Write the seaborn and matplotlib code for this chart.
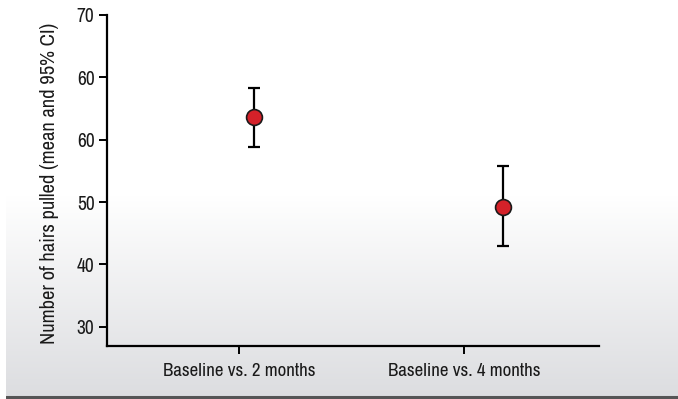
import numpy as np
import pandas as pd
import matplotlib
matplotlib.use("Agg")
import matplotlib.pyplot as plt
import seaborn as sns
from matplotlib import font_manager

# ---- data ----
categories = ["Baseline vs. 2 months", "Baseline vs. 4 months"]
tick_pos = [0.0, 1.0]
point_x = [0.067, 1.173]
means = [63.6, 49.2]
ci_low = [58.9, 42.9]
ci_high = [68.3, 55.7]
ytick_values = [30, 40, 50, 60, 70, 80]
ytick_labels = ["30", "40", "50", "60", "60", "70"]

sns.set_theme(style="white")
names = {f.name for f in font_manager.fontManager.ttflist}
cands = ["Nimbus Sans Narrow", "Liberation Sans Narrow", "Arial Narrow", "Archivo Narrow",
         "Roboto Condensed", "Liberation Sans"]
fam = next(c for c in cands if c in names)
plt.rcParams["font.family"] = [fam, "DejaVu Sans"]

W, H = 678, 399
fig = plt.figure(figsize=(W / 100, H / 100), dpi=100)
fig.patch.set_facecolor("white")

# background gradient
bg = fig.add_axes([6 / W, 0, 1 - 6 / W, 1], zorder=-10)
rows = np.arange(H)
top_c = np.array([1.0, 1.0, 1.0])
bot_c = np.array([0xdc, 0xdd, 0xe0]) / 255
t = np.clip((rows - 195) / (396 - 195), 0, 1)[:, None]
grad = top_c * (1 - t) + bot_c * t
img = np.repeat(grad[:, None, :], 10, axis=1)
bg.imshow(img, aspect="auto", extent=[0, 1, 0, 1], origin="upper")
bg.axhline(0.004, color="#555555", lw=2.2)
bg.set_xlim(0, 1); bg.set_ylim(0, 1)
bg.axis("off")

ax = fig.add_axes([107 / W, (H - 346) / H, (599 - 107) / W, (346 - 15) / H])
ax.patch.set_alpha(0)

df = pd.DataFrame({"x": point_x, "mean": means, "lo": ci_low, "hi": ci_high, "cat": categories})
ax.errorbar(df["x"], df["mean"],
            yerr=[df["mean"] - df["lo"], df["hi"] - df["mean"]],
            fmt="none", ecolor="black", elinewidth=1.6, capsize=4.5, capthick=1.6, zorder=2)
sns.scatterplot(data=df, x="x", y="mean", ax=ax, s=130, color="#d42129",
                edgecolor="#1a1a1a", linewidth=1.2, zorder=3, legend=False)

ax.set_xlim(-0.587, 1.6)
ax.set_ylim(26.9, 80)
ax.set_xticks(tick_pos)
ax.set_xticklabels(categories, fontsize=13.6, color="#1a1a1a")
ax.set_yticks(ytick_values)
ax.set_yticklabels(ytick_labels, fontsize=14, color="#1a1a1a")
ax.set_xlabel("")
ax.set_ylabel("Number of hairs pulled (mean and 95% CI)", fontsize=14.8, color="#1a1a1a")
ax.yaxis.set_label_coords(-0.098, 0.49)
for s in ["top", "right"]:
    ax.spines[s].set_visible(False)
for s in ["left", "bottom"]:
    ax.spines[s].set_color("black")
    ax.spines[s].set_linewidth(1.6)
ax.tick_params(axis="both", direction="out", length=6, width=1.4, color="black", bottom=True, left=True)
ax.tick_params(axis="x", pad=6)
ax.tick_params(axis="y", pad=3)

fig.savefig("out.png", dpi=100)
